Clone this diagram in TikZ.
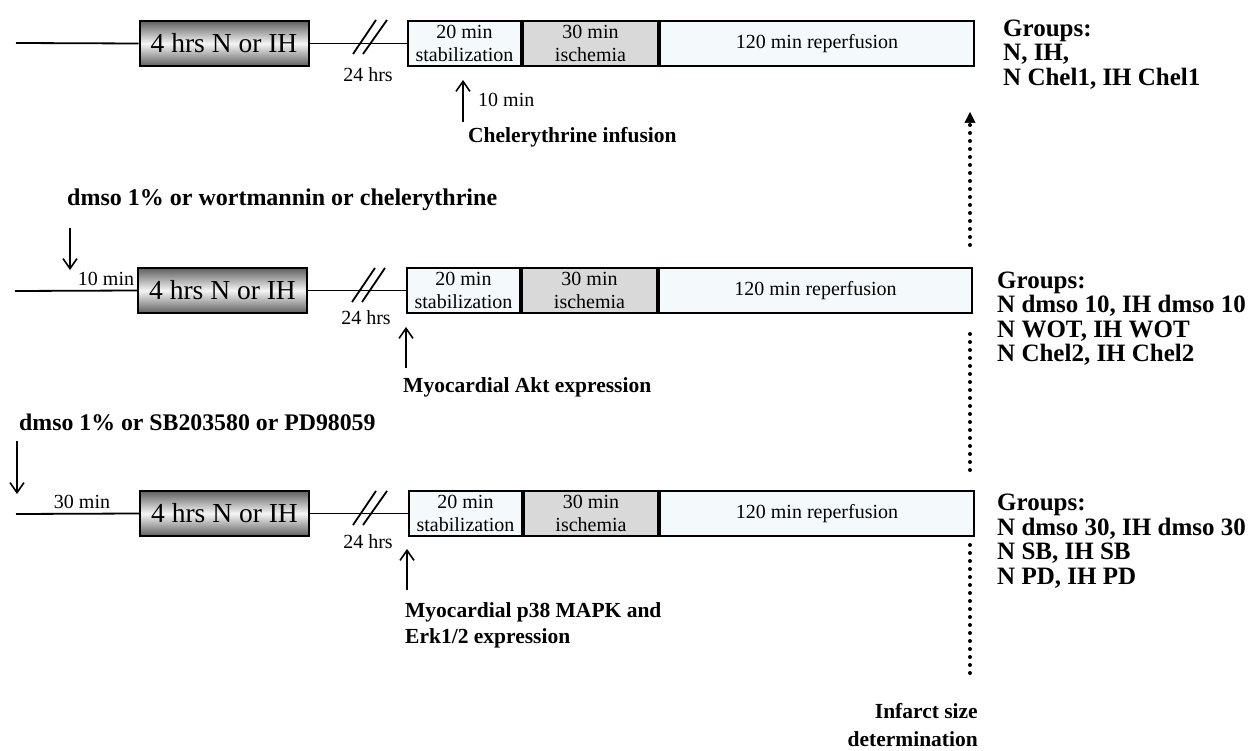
\documentclass[tikz,border=0pt]{standalone}
\usepackage{fontspec}
\setmainfont{Liberation Serif}
\usetikzlibrary{arrows.meta}
\definecolor{hrsdark}{RGB}{95,95,95}
\definecolor{hrslight}{RGB}{245,245,245}
\definecolor{stagefill}{RGB}{244,250,252}
\definecolor{ischfill}{RGB}{217,217,217}

\begin{document}
\begin{tikzpicture}[x=1pt,y=-1pt,
	tline/.style={line width=1.8pt},
	hrsbox/.style={draw,line width=2pt,minimum width=169pt,minimum height=45pt,inner sep=0pt,
		top color=hrsdark,bottom color=hrsdark,middle color=hrslight,font=\fontsize{27.5}{30}\selectfont},
	stage/.style={draw,line width=2pt,minimum height=45pt,inner sep=0pt,align=center,
		fill=stagefill,font=\fontsize{20}{23}\selectfont},
	smalltext/.style={inner sep=0pt,font=\fontsize{20}{22}\selectfont},
	boldtext/.style={inner sep=0pt,align=left,font=\bfseries\fontsize{21.5}{26}\selectfont},
	grouptext/.style={inner sep=0pt,align=left,anchor=west,font=\bfseries\fontsize{25}{24.5}\selectfont},
	ptr/.style={line width=1.6pt,-{Straight Barb[length=10pt,width=14pt]}},
	dotline/.style={line width=4pt,line cap=round,dash pattern=on 0pt off 8pt}]

\useasboundingbox (0,0) rectangle (1259,751);

% first protocol
\coordinate (s1) at (16,43);
\node[hrsbox] (h1) at (224,43.5) {4 hrs N or IH};
\node[stage,minimum width=113pt] (stab1) at (464.5,43.5) {20 min\\stabilization};
\node[stage,minimum width=135pt,fill=ischfill,anchor=west] (isch1) at (stab1.east) {30 min\\ischemia};
\node[stage,minimum width=314pt,anchor=west] (rep1) at (isch1.east) {120 min reperfusion};
\draw[tline] (s1) -- (h1.west);
\draw[tline] (h1.east) -- (stab1.west);
\draw[tline] (353,54) -- (376,20)
		(363,54) -- (387,20);
\node[smalltext] (wait1) at (368,75) {24 hrs};
% infusion
\coordinate (inf1) at (463,122);
\coordinate (inf1tip) at (463,80);
\draw[ptr] (inf1) -- (inf1tip);
\node[smalltext,anchor=west] (ten1) at (478,100) {10 min};
\node[boldtext,anchor=west] (chel) at (468,137) {Chelerythrine infusion};
\node[grouptext] (groups1) at (1003,54.5) {Groups:\\N, IH,\\N Chel1, IH Chel1};

% second protocol
\coordinate (s2) at (15,291);
\node[hrsbox] (h2) at (222.5,290.5) {4 hrs N or IH};
\node[stage,minimum width=113pt] (stab2) at (463.5,290.5) {20 min\\stabilization};
\node[stage,minimum width=135pt,fill=ischfill,anchor=west] (isch2) at (stab2.east) {30 min\\ischemia};
\node[stage,minimum width=313pt,anchor=west] (rep2) at (isch2.east) {120 min reperfusion};
\draw[tline] (s2) -- (h2.west);
\draw[tline] (h2.east) -- (stab2.west);
\draw[tline] (352,302) -- (375,268)
		(362,302) -- (385,268);
\node[smalltext] (wait2) at (366,318) {24 hrs};
% pretreatment
\node[boldtext,anchor=west] (pre2) at (67,200) {\fontsize{24}{26}\selectfont dmso 1\% or wortmannin or chelerythrine};
\coordinate (pre2top) at (70,228);
\coordinate (pre2tip) at (70,270);
\draw[ptr] (pre2top) -- (pre2tip);
\node[smalltext] (ten2) at (106,279) {10 min};
% sampling
\coordinate (akt) at (406,368);
\coordinate (akttip) at (406,327);
\draw[ptr] (akt) -- (akttip);
\node[boldtext,anchor=west] (aktlabel) at (403,387) {Myocardial Akt expression};
\node[grouptext] (groups2) at (997,318.5) {Groups:\\N dmso 10, IH dmso 10\\N WOT, IH WOT\\N Chel2, IH Chel2};

% third protocol
\coordinate (s3) at (16,514);
\node[hrsbox] (h3) at (224.5,513.5) {4 hrs N or IH};
\node[stage,minimum width=113pt] (stab3) at (465.5,513.5) {20 min\\stabilization};
\node[stage,minimum width=134pt,fill=ischfill,anchor=west] (isch3) at (stab3.east) {30 min\\ischemia};
\node[stage,minimum width=314pt,anchor=west] (rep3) at (isch3.east) {120 min reperfusion};
\draw[tline] (s3) -- (h3.west);
\draw[tline] (h3.east) -- (stab3.west);
\draw[tline] (353,525) -- (376,491)
		(363,525) -- (387,491);
\node[smalltext] (wait3) at (368,542) {24 hrs};
% pretreatment
\node[boldtext,anchor=west] (pre3) at (19,422) {\fontsize{23.8}{26}\selectfont dmso 1\% or SB203580 or PD98059};
\coordinate (pre3top) at (17,441);
\coordinate (pre3tip) at (17,494);
\draw[ptr] (pre3top) -- (pre3tip);
\node[smalltext] (thirty) at (82,502) {30 min};
% sampling
\coordinate (mapk) at (407,590);
\coordinate (mapktip) at (407,549);
\draw[ptr] (mapk) -- (mapktip);
\node[boldtext,anchor=west] (mapklabel) at (405,625) {Myocardial p38 MAPK and\\Erk1/2 expression};
\node[grouptext] (groups3) at (997,541) {Groups:\\N dmso 30, IH dmso 30\\N SB, IH SB\\N PD, IH PD};

% infarct size
\coordinate (d1) at (970,245);
\coordinate (d1tip) at (970,112);
\coordinate (d2) at (970,334);
\coordinate (d2end) at (970,477);
\coordinate (d3) at (970,545);
\coordinate (d3end) at (970,679);
\draw[dotline,-{Triangle[length=11pt,width=11pt,line width=0.5pt]}] (d1) -- (d1tip);
\draw[dotline] (d2) -- (d2end);
\draw[dotline] (d3) -- (d3end);
\node[boldtext,align=right,anchor=east,font=\bfseries\fontsize{21.5}{28}\selectfont] (infarct) at (978,725) {Infarct size\\determination};

\end{tikzpicture}
\end{document}
